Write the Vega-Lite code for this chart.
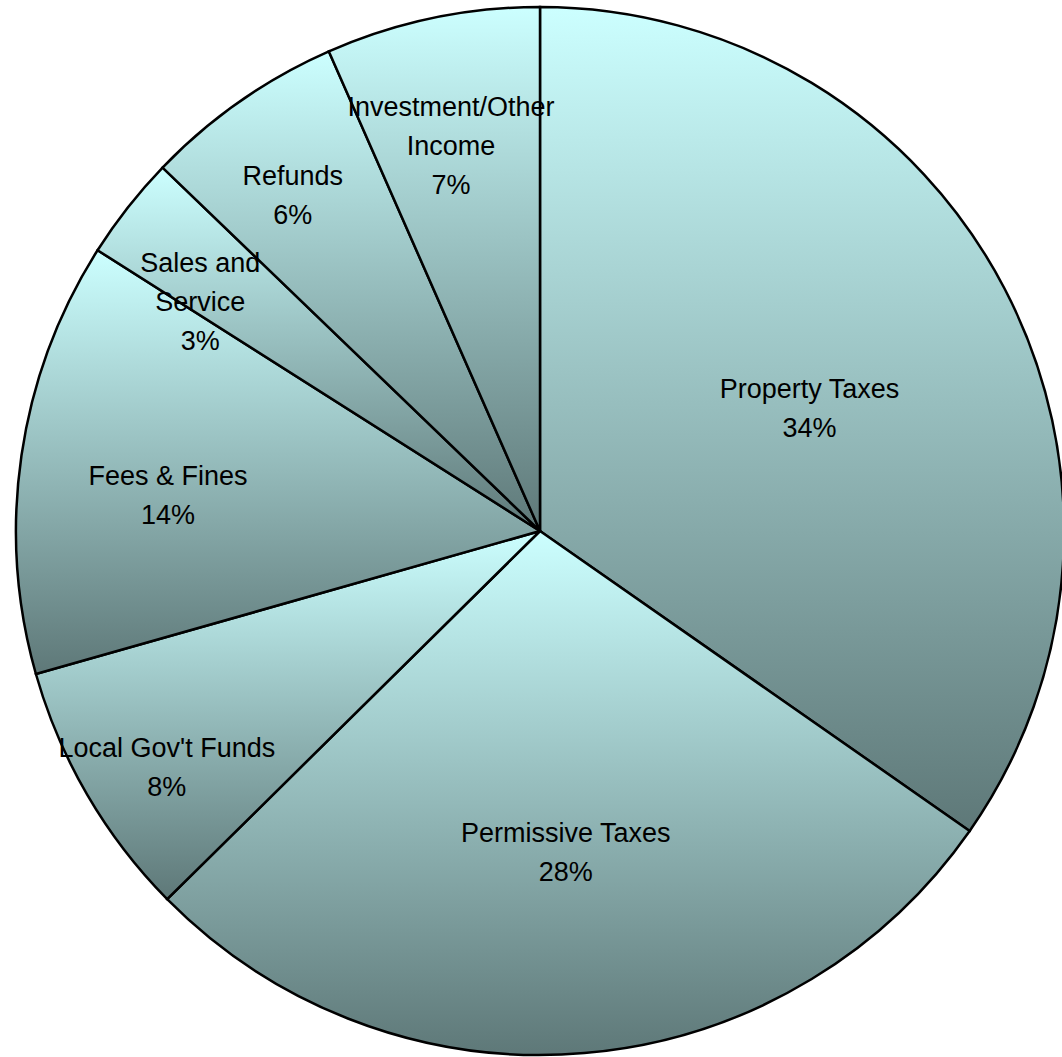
{
  "$schema": "https://vega.github.io/schema/vega-lite/v6.json",
  "width": 1062,
  "height": 1057,
  "autosize": "none",
  "padding": 0,
  "background": "white",
  "config": {"view": {"stroke": null}},
  "data": {
    "values": [
      {"rank": 1, "category": "Property Taxes", "value": 34.7, "label": "Property Taxes\n34%"},
      {"rank": 2, "category": "Permissive Taxes", "value": 27.9, "label": "Permissive Taxes\n28%"},
      {"rank": 3, "category": "Local Gov't Funds", "value": 8.0, "label": "Local Gov't Funds\n8%"},
      {"rank": 4, "category": "Fees & Fines", "value": 13.4, "label": "Fees & Fines\n14%"},
      {"rank": 5, "category": "Sales and Service", "value": 3.2, "label": "Sales and\nService\n3%"},
      {"rank": 6, "category": "Refunds", "value": 6.2, "label": "Refunds\n6%"},
      {"rank": 7, "category": "Investment/Other Income", "value": 6.6, "label": "Investment/Other\nIncome\n7%"}
    ]
  },
  "encoding": {
    "theta": {"field": "value", "type": "quantitative", "stack": true},
    "order": {"field": "rank", "type": "quantitative", "sort": "ascending"}
  },
  "layer": [
    {
      "mark": {
        "type": "arc",
        "x": 540,
        "y": 531,
        "outerRadius": 524,
        "stroke": "black",
        "strokeWidth": 2.5,
        "fill": {
          "gradient": "linear",
          "x1": 0, "y1": 0, "x2": 0, "y2": 1,
          "stops": [
            {"offset": 0, "color": "#CCFFFF"},
            {"offset": 1, "color": "#5E7878"}
          ]
        }
      }
    },
    {
      "mark": {
        "type": "text",
        "x": 540,
        "y": 531,
        "radius": {"expr": "datum.value > 20 ? 304 : (datum.value > 10 ? 376 : 432)"},
        "font": "Liberation Sans",
        "fontSize": 27,
        "lineHeight": 39,
        "color": "black",
        "align": "center",
        "baseline": "middle",
        "lineBreak": "\n"
      },
      "encoding": {
        "text": {"field": "label", "type": "nominal"}
      }
    }
  ]
}
